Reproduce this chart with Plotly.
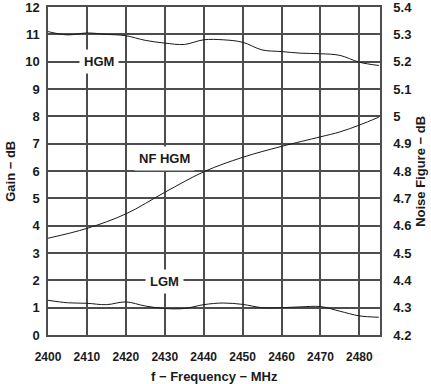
import plotly.graph_objects as go

freq = [2400, 2405, 2410, 2415, 2420, 2425, 2430, 2435, 2440, 2445, 2450, 2455, 2460, 2465, 2470, 2475, 2480, 2485]
hgm_gain = [11.10, 10.98, 11.05, 11.00, 10.95, 10.78, 10.68, 10.63, 10.80, 10.80, 10.71, 10.43, 10.37, 10.31, 10.29, 10.23, 9.98, 9.86]
lgm_gain = [1.27, 1.18, 1.16, 1.11, 1.21, 1.06, 0.97, 0.97, 1.11, 1.17, 1.12, 1.00, 1.00, 1.03, 1.04, 0.87, 0.70, 0.65]
nf_freq = [2400, 2410, 2420, 2430, 2440, 2450, 2460, 2470, 2475, 2480, 2485]
nf_hgm = [4.554, 4.59, 4.643, 4.722, 4.797, 4.85, 4.89, 4.925, 4.943, 4.968, 4.997]

FAM = "Liberation Sans, Arial, sans-serif"
TXT = "#1a1a1a"
grid = "#4d4d4d"

fig = go.Figure()
line = dict(color=TXT, width=1, shape="spline")
fig.add_trace(go.Scatter(x=freq, y=hgm_gain, mode="lines", line=line, yaxis="y"))
fig.add_trace(go.Scatter(x=freq, y=lgm_gain, mode="lines", line=line, yaxis="y"))
fig.add_trace(go.Scatter(x=nf_freq, y=nf_hgm, mode="lines", line=line, yaxis="y2"))

ann = dict(showarrow=False, bgcolor="white", font=dict(family=FAM, size=13, color=TXT), borderpad=4)
fig.add_annotation(x=2413, y=10, text="<b>HGM</b>", **ann)
fig.add_annotation(x=2430, y=6.45, text="<b>NF HGM</b>", **ann)
fig.add_annotation(x=2430, y=1.95, text="<b>LGM</b>", **ann)

tfont = dict(family=FAM, size=13, color=TXT)
fig.add_annotation(xref="paper", yref="paper", x=0.5, y=-0.125, yanchor="middle", showarrow=False,
                   text="<b>f − Frequency − MHz</b>", font=tfont)
fig.add_annotation(xref="paper", yref="paper", x=-0.115, y=0.5, xanchor="center", yanchor="middle", showarrow=False,
                   textangle=-90, text="<b>Gain − dB</b>", font=tfont)
fig.add_annotation(xref="paper", yref="paper", x=1.12, y=0.5, xanchor="center", yanchor="middle", showarrow=False,
                   textangle=-90, text="<b>Noise Figure − dB</b>", font=tfont)

fig.update_layout(
    width=431, height=384,
    margin=dict(l=48, r=51, t=7, b=49),
    paper_bgcolor="white", plot_bgcolor="white",
    showlegend=False,
    font=dict(family=FAM, size=12, color=TXT),
    xaxis=dict(range=[2400, 2485.3], dtick=10, tick0=2400, showgrid=True, gridcolor=grid, gridwidth=1.5,
               showline=True, linecolor=grid, linewidth=1.5, mirror=True, zeroline=False,
               ticks="", ticklabelstandoff=10, automargin=False,
               tickfont=dict(size=12, family=FAM, color=TXT),
               tickprefix="<b>", ticksuffix="</b>"),
    yaxis=dict(range=[0, 12], dtick=1, showgrid=True, gridcolor=grid, gridwidth=1.5, zeroline=False,
               showline=True, linecolor=grid, linewidth=1.5, ticks="", automargin=False,
               ticklabelstandoff=4, ticklabeloverflow="allow",
               tickprefix="<b>", ticksuffix="</b>",
               tickfont=dict(size=13, family=FAM, color=TXT)),
    yaxis2=dict(range=[4.2, 5.4], dtick=0.1, tick0=4.2, overlaying="y", side="right", showgrid=False, zeroline=False,
                showline=True, linecolor=grid, linewidth=1.5, ticks="", automargin=False,
                ticklabelstandoff=9, ticklabeloverflow="allow",
                tickprefix="<b>", ticksuffix="</b>",
                tickfont=dict(size=13, family=FAM, color=TXT)),
)

fig.write_html("out.html", config={"displayModeBar": False},
               post_script="document.body.style.margin='0';document.body.style.padding='0';")
